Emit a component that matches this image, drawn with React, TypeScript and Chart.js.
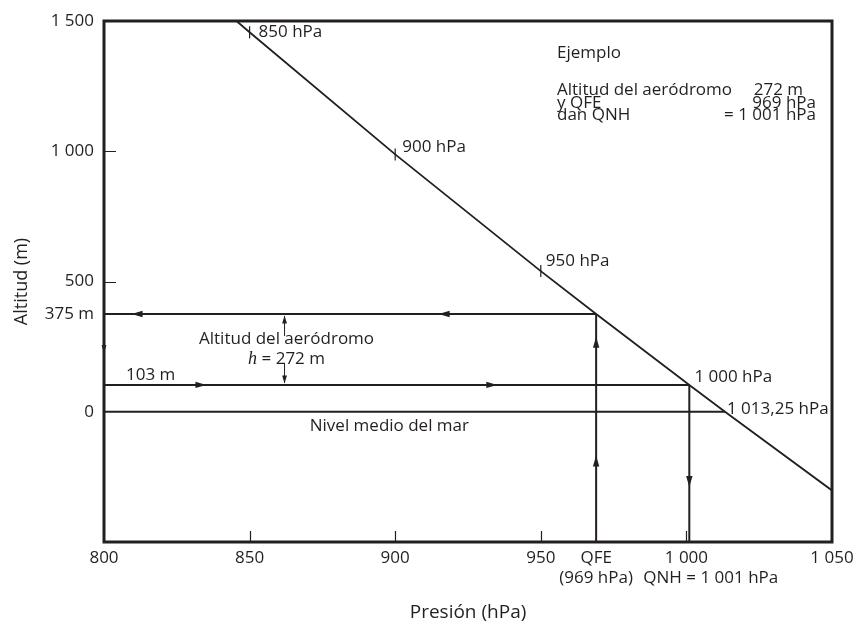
import { useEffect, useRef } from "react";
import { Chart, registerables } from "chart.js";

Chart.register(...registerables);

const INK = "#231f20";
const FAMILY = "'Open Sans', sans-serif";
const FS = 17;

// ---- axes ----
const pressureMin = 800;
const pressureMax = 1050;
const altitudeMin = -500;
const altitudeMax = 1500;
const pressureTicks = [800, 850, 900, 950, 969, 1000, 1050];
const pressureTickLabels: (string | string[])[] = ["800", "850", "900", "950", ["QFE", "(969 hPa)"], "1 000", "1 050"];
const altitudeTicks = [0, 375, 500, 1000, 1500];
const altitudeTickLabels = ["0", "375 m", "500", "1 000", "1 500"];
const pressureInnerMarks = [850, 900, 950, 1000];
const altitudeInnerMarks = [500, 1000];

// ---- standard atmosphere line (pressure hPa -> altitude m) ----
const curvePressure = [845.5, 850, 900, 950, 969, 1000, 1001, 1013.25, 1050];
const curveAltitude = [1500, 1457, 988, 540, 375, 111, 103, 0, -302];
const curveMarkPressures = [850, 900, 950];
const curveLabelPressures = [850, 900, 950, 1000, 1013.25];
const curveLabelTexts = ["850 hPa", "900 hPa", "950 hPa", "1 000 hPa", "1 013,25 hPa"];

// ---- example ----
const QFE = 969;
const QNH = 1001;
const QFE_ALT = 375;
const QNH_ALT = 103;
const ELEVATION = 272;
const MSL_ALT = 0;
const MSL_P = 1013.25;
const DIM_X = 862; // pressure at which the elevation dimension is drawn

// styling: label offsets (px) relative to the curve points
const curveLabelOffsets = [
  [9, 0],
  [7, -7],
  [5, -10],
  [8, -6],
  [2, -3],
];

const fmt = (n: number) => {
  const s = String(Math.round(n));
  return s.length > 3 ? s.slice(0, s.length - 3) + " " + s.slice(s.length - 3) : s;
};

const curveAt = (p: number) => curveAltitude[curvePressure.indexOf(p)];

function arrowHead(ctx: CanvasRenderingContext2D, x: number, y: number, angle: number, len: number, hw: number) {
  ctx.save();
  ctx.translate(x, y);
  ctx.rotate(angle);
  ctx.beginPath();
  ctx.moveTo(0, 0);
  ctx.lineTo(-len, -hw);
  ctx.lineTo(-len, hw);
  ctx.closePath();
  ctx.fill();
  ctx.restore();
}

const annotationPlugin = {
  id: "altimeterAnnotations",
  afterDatasetsDraw(chart: any) {
    const { ctx, chartArea: ca, scales } = chart;
    const xs = scales.x;
    const ys = scales.y;
    const X = (v: number) => xs.getPixelForValue(v);
    const Y = (v: number) => ys.getPixelForValue(v);
    ctx.save();
    ctx.fillStyle = INK;
    ctx.strokeStyle = INK;

    // frame
    ctx.lineWidth = 3;
    ctx.strokeRect(ca.left, ca.top, ca.right - ca.left, ca.bottom - ca.top);

    // inner tick marks
    ctx.lineWidth = 1.2;
    ctx.beginPath();
    pressureInnerMarks.forEach((p) => {
      const px = Math.round(X(p)) + 0.5;
      ctx.moveTo(px, ca.bottom);
      ctx.lineTo(px, ca.bottom - 11);
    });
    altitudeInnerMarks.forEach((a) => {
      const py = Math.round(Y(a)) + 0.5;
      ctx.moveTo(ca.left, py);
      ctx.lineTo(ca.left + 12, py);
    });
    ctx.stroke();

    // marks on the curve
    ctx.lineWidth = 1.2;
    ctx.beginPath();
    curveMarkPressures.forEach((p) => {
      const px = X(p);
      const py = Y(curveAt(p));
      ctx.moveTo(px, py - 6);
      ctx.lineTo(px, py + 6);
    });
    ctx.stroke();

    // arrows along segments
    const arrows: { a: number[]; b: number[]; t: number[]; len: number; hw: number }[] = [
      { a: [QFE, QFE_ALT], b: [pressureMin, QFE_ALT], t: [0.32, 0.944], len: 11, hw: 3.2 },
      { a: [pressureMin, QNH_ALT], b: [QNH, QNH_ALT], t: [0.175, 0.672], len: 11, hw: 3.2 },
      { a: [QFE, altitudeMin], b: [QFE, QFE_ALT], t: [0.38, 0.9], len: 11, hw: 3.2 },
      { a: [QNH, QNH_ALT], b: [QNH, altitudeMin], t: [0.65], len: 11, hw: 3.2 },
      { a: [pressureMin, QFE_ALT], b: [pressureMin, QNH_ALT], t: [0.55], len: 8, hw: 2.4 },
    ];
    arrows.forEach((s) => {
      const x0 = X(s.a[0]);
      const y0 = Y(s.a[1]);
      const x1 = X(s.b[0]);
      const y1 = Y(s.b[1]);
      const ang = Math.atan2(y1 - y0, x1 - x0);
      s.t.forEach((t) => arrowHead(ctx, x0 + (x1 - x0) * t, y0 + (y1 - y0) * t, ang, s.len, s.hw));
    });

    // elevation dimension
    const dx = X(DIM_X);
    const yTop = Y(QFE_ALT);
    const yBot = Y(QNH_ALT);
    ctx.lineWidth = 1;
    ctx.beginPath();
    ctx.moveTo(dx, yTop + 2);
    ctx.lineTo(dx, yTop + 22);
    ctx.moveTo(dx, yBot - 2);
    ctx.lineTo(dx, yBot - 22);
    ctx.stroke();
    arrowHead(ctx, dx, yTop + 1.5, -Math.PI / 2, 8, 2.4);
    arrowHead(ctx, dx, yBot - 1.5, Math.PI / 2, 8, 2.4);

    // texts
    ctx.font = `${FS}px ${FAMILY}`;
    ctx.textBaseline = "middle";
    ctx.textAlign = "left";
    curveLabelPressures.forEach((p, i) => {
      const px = X(p);
      const py = Y(curveAt(p));
      const [ox, oy] = curveLabelOffsets[i];
      ctx.fillText(curveLabelTexts[i], px + ox, py + oy);
    });

    // labels between the lines
    const gap = yBot - yTop;
    ctx.textAlign = "center";
    ctx.fillText("Altitud del aeródromo", dx + 2, yTop + gap * 0.35);
    // h = 272 m
    const line2 = ` = ${ELEVATION} m`;
    const wRest = ctx.measureText(line2).width;
    ctx.font = `italic ${FS + 1}px 'Liberation Serif', serif`;
    const wH = ctx.measureText("h").width;
    const startX = dx + 2 - (wH + wRest) / 2;
    const y2 = yTop + gap * 0.64;
    ctx.textAlign = "left";
    ctx.fillText("h", startX, y2);
    ctx.font = `${FS}px ${FAMILY}`;
    ctx.fillText(line2, startX + wH, y2);

    ctx.fillText(`${QNH_ALT} m`, ca.left + 22, yBot - 10);
    ctx.textAlign = "center";
    ctx.fillText("Nivel medio del mar", X(898), Y(MSL_ALT) + 14);

    // QNH label under the axis
    ctx.textAlign = "left";
    ctx.fillText(`QNH = ${fmt(QNH)} hPa`, X(QNH) - 46, ca.bottom + 36);

    // example box
    const bx = ca.right - 275;
    ctx.textBaseline = "alphabetic";
    ctx.fillText("Ejemplo", bx, ca.top + 37);
    ctx.fillText("Altitud del aeródromo", bx, ca.top + 74);
    ctx.fillText("y QFE", bx, ca.top + 86.5);
    ctx.fillText("dan QNH", bx, ca.top + 98.5);
    ctx.textAlign = "right";
    ctx.fillText(`${ELEVATION} m`, ca.right - 29, ca.top + 74);
    ctx.fillText(`${QFE} hPa`, ca.right - 16, ca.top + 86.5);
    ctx.fillText(`= ${fmt(QNH)} hPa`, ca.right - 16, ca.top + 98.5);

    ctx.restore();
  },
};

export default function App() {
  const ref = useRef<HTMLCanvasElement>(null);
  useEffect(() => {
    const font = { family: FAMILY, size: FS };
    const line = (pts: { x: number; y: number }[], w: number) => ({
      data: pts,
      showLine: true,
      borderColor: INK,
      backgroundColor: INK,
      borderWidth: w,
      pointRadius: 0,
      tension: 0,
    });
    const chart = new Chart(ref.current as HTMLCanvasElement, {
      type: "scatter",
      data: {
        datasets: [
          line(curvePressure.map((p, i) => ({ x: p, y: curveAltitude[i] })), 1.8),
          line([{ x: pressureMin, y: QFE_ALT }, { x: QFE, y: QFE_ALT }], 2),
          line([{ x: QFE, y: altitudeMin }, { x: QFE, y: QFE_ALT }], 2),
          line([{ x: pressureMin, y: QNH_ALT }, { x: QNH, y: QNH_ALT }], 2),
          line([{ x: QNH, y: QNH_ALT }, { x: QNH, y: altitudeMin }], 2),
          line([{ x: pressureMin, y: MSL_ALT }, { x: MSL_P, y: MSL_ALT }], 2),
        ] as any,
      },
      options: {
        animation: false,
        responsive: false,
        events: [],
        layout: { padding: { top: 21, right: 29, left: 0, bottom: 0 } },
        plugins: { legend: { display: false }, tooltip: { enabled: false } },
        scales: {
          x: {
            type: "linear",
            min: pressureMin,
            max: pressureMax,
            afterBuildTicks: (s: any) => {
              s.ticks = pressureTicks.map((v) => ({ value: v }));
            },
            afterFit: (s: any) => {
              s.height = 88;
            },
            grid: { display: false, drawTicks: false },
            border: { display: false },
            ticks: {
              autoSkip: false,
              maxRotation: 0,
              padding: 6,
              color: INK,
              font,
              callback: (v: any) => pressureTickLabels[pressureTicks.indexOf(Number(v))] ?? "",
            },
            title: {
              display: true,
              text: "Presión (hPa)",
              color: INK,
              font: { family: FAMILY, size: 19 },
              padding: { top: 0, bottom: 6 },
            },
          },
          y: {
            type: "linear",
            min: altitudeMin,
            max: altitudeMax,
            afterBuildTicks: (s: any) => {
              s.ticks = altitudeTicks.map((v) => ({ value: v }));
            },
            afterFit: (s: any) => {
              s.width = 104;
            },
            grid: { display: false, drawTicks: false },
            border: { display: false },
            ticks: {
              autoSkip: false,
              padding: 10,
              color: INK,
              font,
              callback: (v: any) => altitudeTickLabels[altitudeTicks.indexOf(Number(v))] ?? "",
            },
            title: {
              display: true,
              text: "Altitud (m)",
              color: INK,
              font: { family: FAMILY, size: 18 },
              padding: { top: 11, bottom: 0 },
            },
          },
        },
      } as any,
      plugins: [annotationPlugin],
    });
    return () => chart.destroy();
  }, []);
  return (
    <div style={{ position: "absolute", left: 0, top: 0, width: 861, height: 630, background: "#fff" }}>
      <canvas ref={ref} width={861} height={630} style={{ display: "block" }} />
    </div>
  );
}
